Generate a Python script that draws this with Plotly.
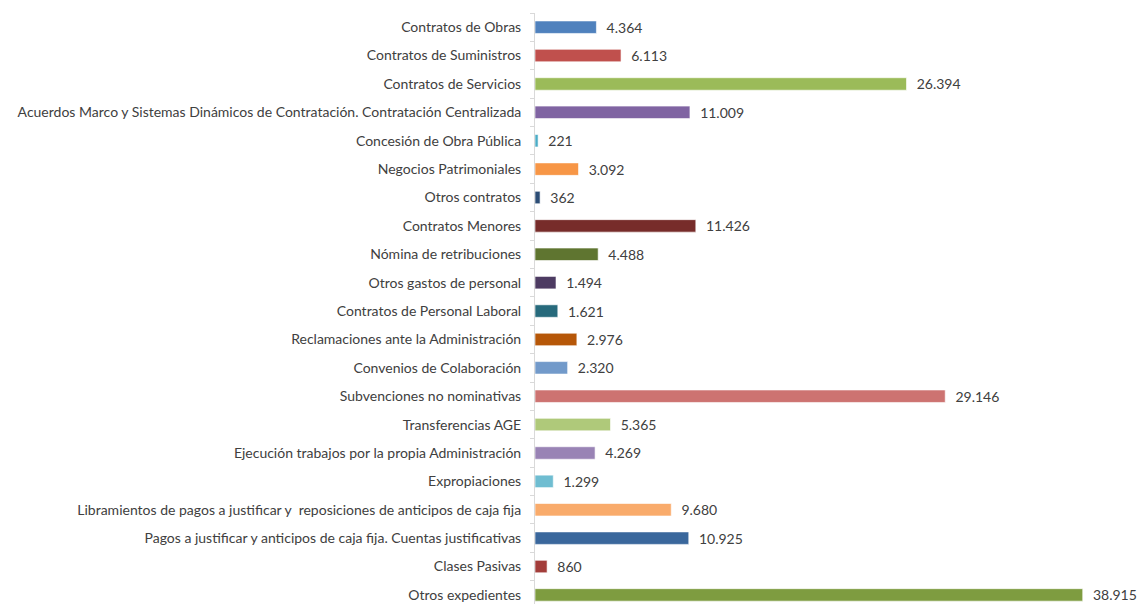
import plotly.graph_objects as go

categories = [
    "Contratos de Obras",
    "Contratos de Suministros",
    "Contratos de Servicios",
    "Acuerdos Marco y Sistemas Dinámicos de Contratación. Contratación Centralizada",
    "Concesión de Obra Pública",
    "Negocios Patrimoniales",
    "Otros contratos",
    "Contratos Menores",
    "Nómina de retribuciones",
    "Otros gastos de personal",
    "Contratos de Personal Laboral",
    "Reclamaciones ante la Administración",
    "Convenios de Colaboración",
    "Subvenciones no nominativas",
    "Transferencias AGE",
    "Ejecución trabajos por la propia Administración",
    "Expropiaciones",
    "Libramientos de pagos a justificar y  reposiciones de anticipos de caja fija",
    "Pagos a justificar y anticipos de caja fija. Cuentas justificativas",
    "Clases Pasivas",
    "Otros expedientes",
]
values = [4364, 6113, 26394, 11009, 221, 3092, 362, 11426, 4488, 1494, 1621,
          2976, 2320, 29146, 5365, 4269, 1299, 9680, 10925, 860, 38915]
colors = ["#4F81BD", "#C0504D", "#9BBB59", "#8064A2", "#4BACC6", "#F79646",
          "#2C4D75", "#772C2A", "#5F7530", "#4D3B62", "#276A7C", "#B65708",
          "#729ACA", "#CD7371", "#AFC97A", "#9983B5", "#6FBDD1", "#F9AB6B",
          "#3A679C", "#A33D3A", "#7E9C40"]

fig = go.Figure(go.Bar(
    x=values, y=categories, orientation="h",
    marker=dict(color=colors, line=dict(color="rgba(255,255,255,0.6)", width=1)),
    width=0.44,
    texttemplate="  %{x:,}", textposition="outside", cliponaxis=False,
    constraintext="none",
    textfont=dict(family="Lato", size=14, color="#404040"),
    hoverinfo="skip",
))

fig.update_layout(
    width=1139, height=604,
    margin=dict(l=535, r=41, t=13, b=0),
    paper_bgcolor="white", plot_bgcolor="white",
    separators=",.",
    showlegend=False,
    font=dict(family="Lato", size=14, color="#404040"),
    xaxis=dict(range=[0, 40000], visible=False),
    yaxis=dict(
        range=[20.32, -0.5], type="category",
        showline=True, linecolor="#D9D9D9", linewidth=1,
        ticks="outside", tickson="boundaries", ticklen=4, tickcolor="#D9D9D9",
        ticklabelstandoff=10,
        showgrid=False, tickfont=dict(family="Lato", size=14, color="#404040"),
    ),
)

fig.write_html("out.html", config={"displayModeBar": False},
               post_script="document.body.style.margin='0';")
